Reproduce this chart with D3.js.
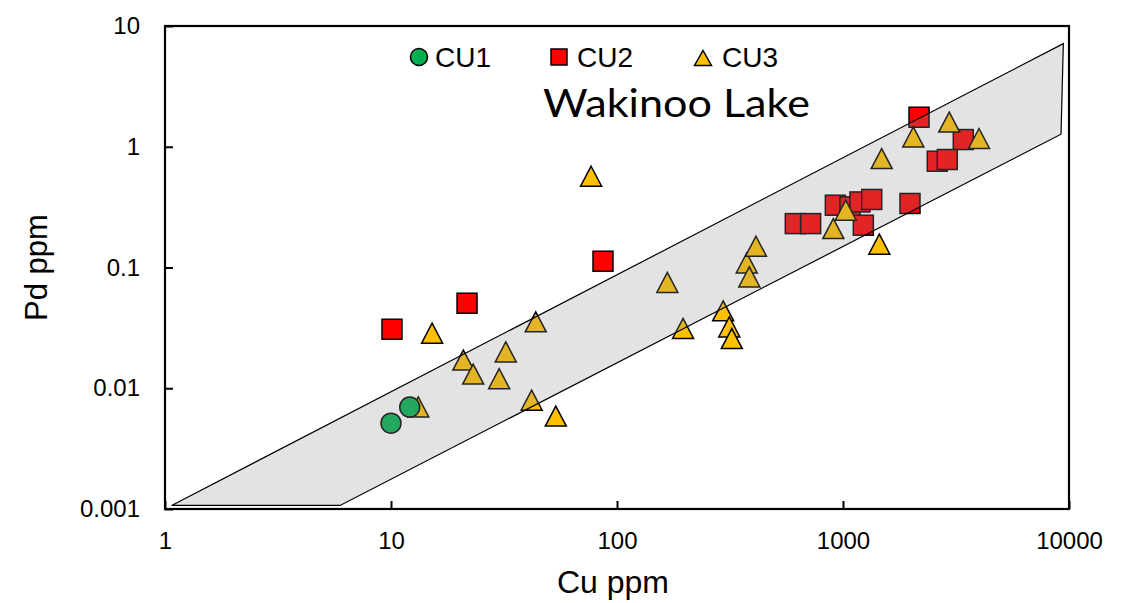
<!DOCTYPE html>
<html>
<head>
<meta charset="utf-8">
<script src="https://cdn.jsdelivr.net/npm/d3@7"></script>
<style>
  html, body { margin: 0; padding: 0; background: #fff; }
  svg { display: block; }
</style>
</head>
<body>
<svg id="chart" width="1131" height="603"></svg>
<script>
// Cu vs Pd (ppm), Wakinoo Lake samples by unit
const cu1Cu = [10, 12.1];
const cu1Pd = [0.00514, 0.00698];

const cu2Cu = [10.1, 21.7, 86.7, 2170, 3406, 2613, 2894, 615, 719, 925, 1074, 1189, 1340, 1230, 1979];
const cu2Pd = [0.0308, 0.0506, 0.1127, 1.755, 1.147, 0.759, 0.784, 0.231, 0.231, 0.328, 0.318, 0.349, 0.366, 0.224, 0.339];

const cu3Cu = [76.8, 15.2, 13.2, 20.9, 23.1, 32.2, 30.1, 43.7, 41.9, 53.6, 167, 196, 295, 314, 322, 375, 385, 412, 2952, 2047, 3998, 1483, 1028, 906, 1448];
const cu3Pd = [0.570, 0.0286, 0.0070, 0.0171, 0.0131, 0.0200, 0.0120, 0.0355, 0.00796, 0.00588, 0.0752, 0.0313, 0.0438, 0.0322, 0.0258, 0.109, 0.0836, 0.150, 1.60, 1.205, 1.17, 0.798, 0.298, 0.210, 0.156];

// field outline (Cu, Pd vertices)
const fieldCu = [1.07, 9440, 9220, 5.95];
const fieldPd = [0.00107, 7.15, 1.27, 0.00107];

const xTickValues = [1, 10, 100, 1000, 10000];
const xTickLabels = ["1", "10", "100", "1000", "10000"];
const yTickValues = [0.001, 0.01, 0.1, 1, 10];
const yTickLabels = ["0.001", "0.01", "0.1", "1", "10"];

const seriesNames = ["CU1", "CU2", "CU3"];

const svg = d3.select("#chart");
const plot = { left: 165, right: 1069, top: 26, bottom: 509 };

const x = d3.scaleLog().domain([1, 10000]).range([plot.left, plot.right]);
const y = d3.scaleLog().domain([0.001, 10]).range([plot.bottom, plot.top]);

const FONT = "'Liberation Sans', Arial, sans-serif";

// axes with inward ticks
const xAxis = d3.axisBottom(x)
  .tickValues(xTickValues)
  .tickFormat((d, i) => xTickLabels[i])
  .tickSizeInner(-8).tickSizeOuter(0).tickPadding(23);
const yAxis = d3.axisLeft(y)
  .tickValues(yTickValues)
  .tickFormat((d, i) => yTickLabels[i])
  .tickSizeInner(-8).tickSizeOuter(0).tickPadding(25);

const gx = svg.append("g").attr("transform", `translate(0,${plot.bottom})`).call(xAxis);
const gy = svg.append("g").attr("transform", `translate(${plot.left},0)`).call(yAxis);
[gx, gy].forEach(g => {
  g.select(".domain").remove();
  g.selectAll(".tick line").attr("stroke", "#000").attr("stroke-width", 2);
  g.selectAll(".tick text").attr("fill", "#000").style("font-family", FONT).style("font-size", "24px");
});

// markers
const triPath = (w, h) => `M0,${-h / 2}L${w / 2},${h / 2}L${-w / 2},${h / 2}Z`;
const markers = svg.append("g");

const cu2 = cu2Cu.map((c, i) => ({ cu: c, pd: cu2Pd[i] }));
const cu3 = cu3Cu.map((c, i) => ({ cu: c, pd: cu3Pd[i] }));
const cu1 = cu1Cu.map((c, i) => ({ cu: c, pd: cu1Pd[i] }));

markers.selectAll(".sq").data(cu2).join("rect")
  .attr("x", d => x(d.cu) - 10).attr("y", d => y(d.pd) - 10)
  .attr("width", 20).attr("height", 20)
  .attr("fill", "#FF0000").attr("stroke", "#000").attr("stroke-width", 1.5);

markers.selectAll(".tri").data(cu3).join("path")
  .attr("d", triPath(21, 20))
  .attr("transform", d => `translate(${x(d.cu)},${y(d.pd)})`)
  .attr("fill", "#FFC000").attr("stroke", "#000").attr("stroke-width", 1.5)
  .attr("stroke-linejoin", "miter");

markers.selectAll(".cir").data(cu1).join("circle")
  .attr("cx", d => x(d.cu)).attr("cy", d => y(d.pd)).attr("r", 10)
  .attr("fill", "#00B050").attr("stroke", "#000").attr("stroke-width", 1.5);

// translucent field overlay
const fieldPts = fieldCu.map((c, i) => [x(c), y(fieldPd[i])]);
svg.append("path")
  .attr("d", d3.line()(fieldPts) + "Z")
  .attr("fill", "rgb(143,143,143)").attr("fill-opacity", 0.25)
  .attr("stroke", "#000").attr("stroke-width", 1.2).attr("stroke-linejoin", "miter");

// plot frame
svg.append("rect")
  .attr("x", plot.left).attr("y", plot.top)
  .attr("width", plot.right - plot.left).attr("height", plot.bottom - plot.top)
  .attr("fill", "none").attr("stroke", "#000").attr("stroke-width", 2.2);

// legend
const leg = svg.append("g");
const legendY = 57;
const legendItems = [
  { name: seriesNames[0], mx: 419, tx: 435 },
  { name: seriesNames[1], mx: 559, tx: 577 },
  { name: seriesNames[2], mx: 703, tx: 722 }
];
leg.append("circle").attr("cx", legendItems[0].mx).attr("cy", legendY).attr("r", 8.5)
  .attr("fill", "#00B050").attr("stroke", "#000").attr("stroke-width", 1.5);
leg.append("rect").attr("x", legendItems[1].mx - 8).attr("y", legendY - 8).attr("width", 16).attr("height", 16)
  .attr("fill", "#FF0000").attr("stroke", "#000").attr("stroke-width", 1.5);
leg.append("path").attr("d", triPath(17, 15)).attr("transform", `translate(${legendItems[2].mx},${legendY + 1})`)
  .attr("fill", "#FFC000").attr("stroke", "#000").attr("stroke-width", 1.5);
leg.selectAll("text").data(legendItems).join("text")
  .attr("x", d => d.tx).attr("y", 67)
  .style("font-family", FONT).style("font-size", "28px").attr("fill", "#000")
  .text(d => d.name);

// title
svg.append("text")
  .attr("x", 543).attr("y", 117)
  .attr("textLength", 267).attr("lengthAdjust", "spacingAndGlyphs")
  .style("font-family", "Lato, 'Open Sans', sans-serif").style("font-size", "38px").attr("fill", "#000")
  .text("Wakinoo Lake");

// axis titles
svg.append("text")
  .attr("x", 613).attr("y", 593)
  .attr("text-anchor", "middle")
  .style("font-family", FONT).style("font-size", "32px").attr("fill", "#000")
  .text("Cu ppm");
svg.append("text")
  .attr("transform", `translate(47,${(plot.top + plot.bottom) / 2}) rotate(-90)`)
  .attr("text-anchor", "middle")
  .style("font-family", FONT).style("font-size", "31px").attr("fill", "#000")
  .text("Pd ppm");
</script>
</body>
</html>
